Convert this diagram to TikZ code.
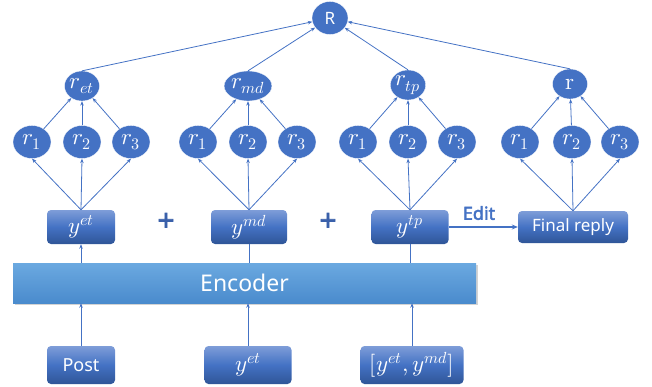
\documentclass[tikz,border=0pt]{standalone}
\usepackage{fontspec}
\usepackage{unicode-math}
\setmainfont{Noto Sans}
\setmathfont{Latin Modern Math}
\newfontfamily\editfont[FakeBold=2.5]{Noto Sans}
\usetikzlibrary{arrows.meta,shadows,shapes.geometric}
\definecolor{obl}{HTML}{4472C4}
\definecolor{btop}{HTML}{7E9DD8}
\definecolor{bbot}{HTML}{2F5597}
\definecolor{etop}{HTML}{6BA9E0}
\definecolor{ebot}{HTML}{4A8BCD}
\definecolor{plusc}{HTML}{3A60AA}
\tikzset{
  circ/.style={ellipse, fill=obl, draw=white, line width=0.3pt, text=white, inner sep=0pt, font=\fontsize{23}{23}\selectfont},
  bbox/.style={rounded corners=4pt, top color=btop, bottom color=bbot, middle color=obl, text=white, minimum height=34pt, inner sep=0pt, font=\fontsize{23}{23}\selectfont},
  con/.style={draw=obl, line width=0.8pt, -{Stealth[length=4.5pt,width=3.5pt]}},
  nohead/.style={draw=obl, line width=0.8pt},
}
\begin{document}
\begin{tikzpicture}[x=1pt,y=-1pt]
\useasboundingbox (0,0) rectangle (652,387);
% top R
\node[circ, minimum width=36pt, minimum height=33pt, font=\fontsize{17}{17}\selectfont] (R) at (330,18) {R};
% level 2
\node[circ, minimum width=35pt, minimum height=30pt] (ret) at (82,86) {$r_{et}$};
\node[circ, minimum width=35pt, minimum height=30pt] (rmd) at (248,86) {$r_{md}$};
\node[circ, minimum width=35pt, minimum height=30pt] (rtp) at (408,85) {$r_{tp}$};
\node[circ, minimum width=35pt, minimum height=30pt] (rr) at (570,84) {$\symup{r}$};
% level 3
\foreach \g/\a/\b/\c in {et/32/82/131, md/198/248/297, tp/358/408/457, rr/520/572/620}{
  \node[circ, minimum width=38pt, minimum height=33pt] (\g1) at (\a,142) {$r_1$};
  \node[circ, minimum width=38pt, minimum height=33pt] (\g2) at (\b,142) {$r_2$};
  \node[circ, minimum width=38pt, minimum height=33pt] (\g3) at (\c,142) {$r_3$};
}
% y boxes
\node[bbox, minimum width=68pt] (yet) at (81,227) {$y^{et}$};
\node[bbox, minimum width=76pt] (ymd) at (249,227) {$y^{md}$};
\node[bbox, minimum width=77pt] (ytp) at (410,227) {$y^{tp}$};
\node[bbox, minimum width=110pt, minimum height=32pt, font=\fontsize{17}{17}\selectfont] (fin) at (573,227) {Final reply};
% plus signs
\node[text=plusc, font=\editfont\fontsize{30}{30}\selectfont] (p1) at (166,222) {+};
\node[text=plusc, font=\editfont\fontsize{30}{30}\selectfont] (p2) at (328,222) {+};
% encoder
\node[top color=etop, bottom color=ebot, minimum width=463pt, minimum height=40pt, inner sep=0pt, text=white, font=\fontsize{23}{23}\selectfont, drop shadow={shadow xshift=1.5pt, shadow yshift=-1.5pt, opacity=0.35}] (enc) at (244.5,283) {Encoder};
% bottom boxes
\node[bbox, minimum width=68pt, minimum height=38pt, font=\fontsize{18}{18}\selectfont] (post) at (81,365) {Post};
\node[bbox, minimum width=87pt, minimum height=38pt] (bet) at (248,365) {$y^{et}$};
\node[bbox, minimum width=103pt, minimum height=38pt] (bem) at (412,365) {$[y^{et},y^{md}]$};
% connectors bottom -> encoder
\draw[con] (post.north) -- (post.north |- enc.south);
\draw[con] (bet.north) -- (bet.north |- enc.south);
\draw[con] (bem.north) -- (bem.north |- enc.south);
% encoder -> y
\draw[con] (yet.south |- enc.north) -- (yet.south);
\draw[nohead] (ymd.south |- enc.north) -- (ymd.south);
\draw[nohead] (ytp.south |- enc.north) -- (ytp.south);
% y -> r_i
\foreach \y/\g in {yet/et, ymd/md, ytp/tp, fin/rr}{
  \draw[con] (\y.north) -- (\g1.south);
  \draw[con] (\y.north) -- (\g2.south);
  \draw[con] (\y.north) -- (\g3.south);
}
% r_i -> r_group
\foreach \g/\t in {et/ret, md/rmd, tp/rtp, rr/rr}{
  \draw[con] (\g1) -- (\t);
  \draw[con] (\g2) -- (\t);
  \draw[con] (\g3) -- (\t);
}
% groups -> R
\draw[con] (ret.north) -- (R);
\draw[con] (rmd.north) -- (R);
\draw[con] (rtp.north) -- (R);
\draw[con] (rr.north) -- (R);
% edit
\draw[draw=obl, line width=1.6pt, -{Stealth[length=6pt,width=5pt]}] (ytp.east) -- (fin.west);
\node[text=obl, font=\editfont\fontsize{18}{18}\selectfont] (edit) at (479,213) {Edit};
\end{tikzpicture}
\end{document}
